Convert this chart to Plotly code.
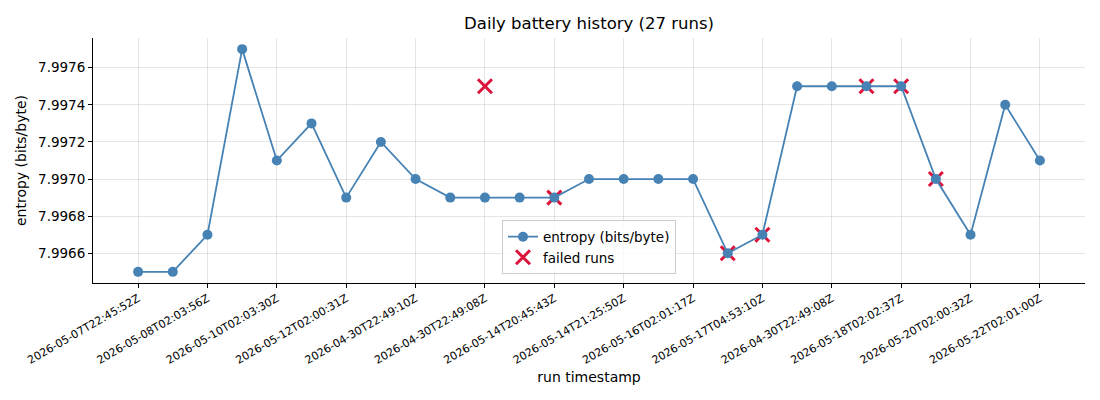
import plotly.graph_objects as go

runs = list(range(27))
entropy = [7.9965, 7.9965, 7.9967, 7.9977, 7.9971, 7.9973, 7.9969, 7.9972, 7.9970,
           7.9969, 7.9969, 7.9969, 7.9969, 7.9970, 7.9970, 7.9970, 7.9970, 7.9966,
           7.9967, 7.9975, 7.9975, 7.9975, 7.9975, 7.9970, 7.9967, 7.9974, 7.9971]
failed_runs = [10, 12, 17, 18, 21, 22, 23]
failed_entropy = [7.9975, 7.9969, 7.9966, 7.9967, 7.9975, 7.9975, 7.9970]
tick_runs = list(range(0, 27, 2))
tick_labels = ["2026-05-07T22:45:52Z", "2026-05-08T02:03:56Z", "2026-05-10T02:03:30Z",
               "2026-05-12T02:00:31Z", "2026-04-30T22:49:10Z", "2026-04-30T22:49:08Z",
               "2026-05-14T20:45:43Z", "2026-05-14T21:25:50Z", "2026-05-16T02:01:17Z",
               "2026-05-17T04:53:10Z", "2026-04-30T22:49:08Z", "2026-05-18T02:02:37Z",
               "2026-05-20T02:00:32Z", "2026-05-22T02:01:00Z"]
y_ticks = [7.9966, 7.9968, 7.9970, 7.9972, 7.9974, 7.9976]

fig = go.Figure()
fig.add_trace(go.Scatter(
    x=failed_runs, y=failed_entropy, mode="markers", name="failed runs",
    marker=dict(symbol="x-thin", size=14, color="#dc143c",
                line=dict(color="#dc143c", width=3)),
    legendrank=2,
))
fig.add_trace(go.Scatter(
    x=runs, y=entropy, mode="lines+markers", name="entropy (bits/byte)",
    line=dict(color="#4682b4", width=1.8),
    marker=dict(symbol="circle", size=10, color="#4682b4"),
    legendrank=1,
))

axis_common = dict(showgrid=True, gridcolor="rgba(0,0,0,0.1)", gridwidth=1,
                   showline=True, linecolor="black", linewidth=1,
                   ticks="outside", ticklen=4, tickcolor="black", zeroline=False,
                   mirror=False, automargin=False)
fig.update_xaxes(range=[-1.3, 27.3], tickvals=tick_runs, ticktext=tick_labels,
                 tickangle=-30, tickfont=dict(size=11, color="black"),
                 title=dict(text="run timestamp", font=dict(size=14, color="black"), standoff=6),
                 **axis_common)
fig.update_yaxes(range=[7.99644, 7.99776], tickvals=y_ticks, tickformat=".4f",
                 tickfont=dict(size=13.5, color="black"),
                 title=dict(text="entropy (bits/byte)", font=dict(size=14, color="black"), standoff=8),
                 **axis_common)

# page body has an 8px default margin; compensate so the plot area matches
fig.update_layout(
    width=1092, height=392,
    margin=dict(l=85, r=15, t=30, b=117),
    paper_bgcolor="white", plot_bgcolor="white",
    font=dict(family="DejaVu Sans", color="black"),
    title=dict(text="Daily battery history (27 runs)", x=(589 - 8) / 1092, xanchor="center",
               y=1 - 15 / 392, yanchor="middle", font=dict(size=16.5, color="black")),
    showlegend=True,
    legend=dict(x=0.5, xanchor="center", y=0.035, yanchor="bottom",
                bgcolor="rgba(255,255,255,0.8)", bordercolor="#cccccc", borderwidth=1,
                font=dict(size=13.5, color="black")),
)

fig.write_html("out.html")
